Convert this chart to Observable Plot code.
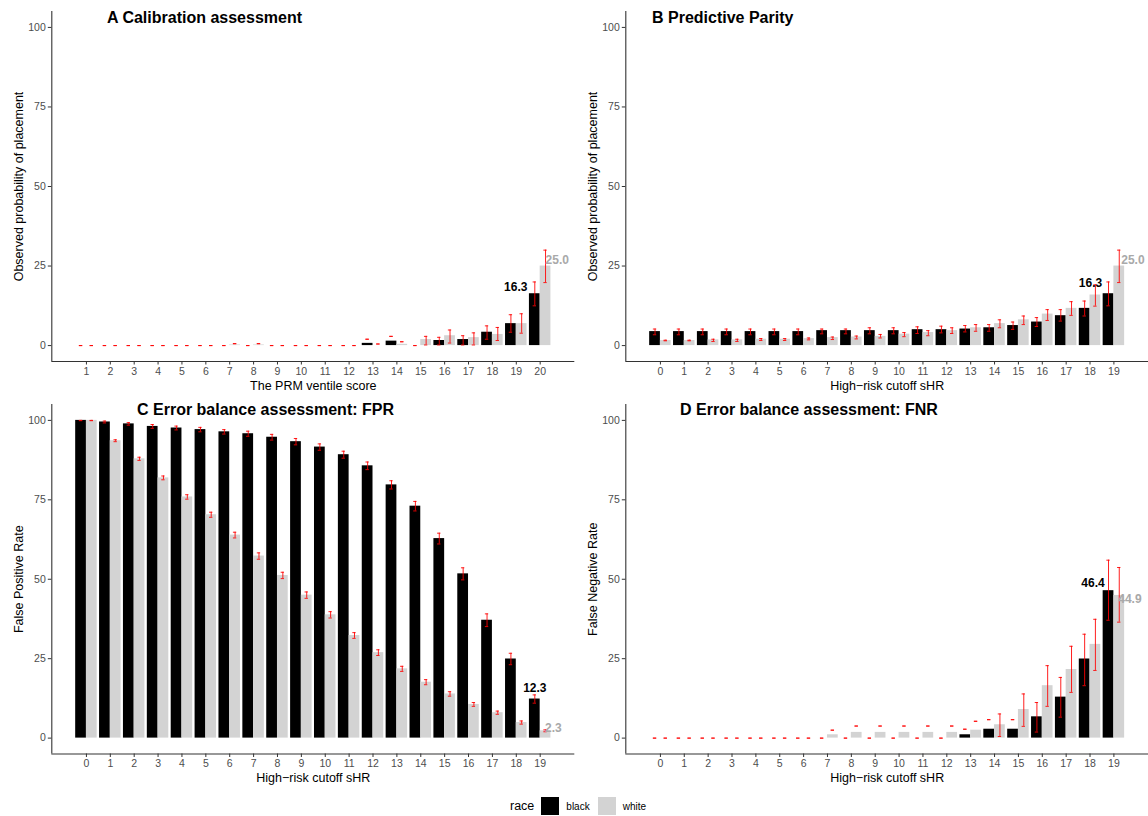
<!DOCTYPE html>
<html>
<head>
<meta charset="utf-8">
<script src="https://cdn.jsdelivr.net/npm/d3@7"></script>
<script src="https://cdn.jsdelivr.net/npm/@observablehq/plot@0.6"></script>
<style>
  body { margin: 0; background: #fff; }
  #chart { position: relative; width: 1148px; height: 816px; overflow: hidden;
           font-family: "Liberation Sans", Arial, sans-serif; background: #fff; }
  #chart svg { position: absolute; background: transparent; max-width: none; overflow: visible; }
  .ptitle { position: absolute; font-weight: bold; font-size: 16px; line-height: 16px; white-space: nowrap; color: #000; }
  .legend { position: absolute; left: 510px; top: 797px; height: 18px; display: flex; align-items: center; white-space: nowrap; }
  .legend .lt { font-size: 12.5px; color: #000; margin-right: 7px; }
  .legend .sw { width: 18px; height: 18px; margin-right: 7px; }
  .legend .ll { font-size: 10px; color: #000; margin-right: 8px; }
</style>
</head>
<body>
<div id="chart"></div>
<script>
// ---- categories & legend ----
const races = ["black", "white"];
const raceColors = ["#000000", "#d3d3d3"];
const ventiles = [1, 2, 3, 4, 5, 6, 7, 8, 9, 10, 11, 12, 13, 14, 15, 16, 17, 18, 19, 20];
const cutoffs = [0, 1, 2, 3, 4, 5, 6, 7, 8, 9, 10, 11, 12, 13, 14, 15, 16, 17, 18, 19];
const yTicks = [0, 25, 50, 75, 100];
const yDomain = [-5, 105];

// ---- A: observed placement rate by PRM ventile ----
const calibBlack   = [0, 0, 0, 0, 0, 0, 0, 0, 0, 0, 0, 0, 0.7, 1.4, 0, 1.6, 1.9, 4.2, 6.9, 16.3];
const calibBlackLo = [0, 0, 0, 0, 0, 0, 0, 0, 0, 0, 0, 0, 2.0, 2.9, 0, 0.2, 0.2, 2.0, 4.2, 12.5];
const calibBlackHi = [0, 0, 0, 0, 0, 0, 0, 0, 0, 0, 0, 0, 2.0, 2.9, 0, 2.6, 3.1, 6.2, 9.7, 20.0];
const calibWhite   = [0, 0, 0, 0, 0, 0, 0.2, 0.2, 0, 0, 0, 0, 0, 0.4, 1.9, 3.1, 2.5, 3.5, 6.9, 25.0];
const calibWhiteLo = [0, 0, 0, 0, 0, 0, 0.6, 0.6, 0, 0, 0, 0, 0.5, 1.2, 0.2, 0.8, 0.2, 1.6, 3.9, 19.8];
const calibWhiteHi = [0, 0, 0, 0, 0, 0, 0.6, 0.6, 0, 0, 0, 0, 0.5, 1.2, 2.9, 4.9, 4.0, 5.7, 10.0, 30.0];

// ---- B: predictive parity (PPV) by high-risk cutoff ----
const ppvBlack   = [4.4, 4.4, 4.4, 4.4, 4.4, 4.4, 4.4, 4.7, 4.7, 4.7, 4.7, 5.0, 5.0, 5.2, 5.6, 6.3, 7.4, 9.4, 11.7, 16.3];
const ppvBlackLo = [3.4, 3.4, 3.4, 3.4, 3.4, 3.4, 3.4, 3.7, 3.7, 3.7, 3.7, 3.8, 4.0, 4.3, 4.5, 5.1, 6.0, 7.7, 9.3, 12.5];
const ppvBlackHi = [5.2, 5.2, 5.2, 5.2, 5.2, 5.2, 5.2, 5.2, 5.2, 5.6, 5.6, 5.9, 6.1, 6.3, 6.6, 7.4, 8.8, 11.3, 14.0, 20.0];
const ppvWhite   = [1.6, 1.6, 1.8, 1.8, 2.0, 2.0, 2.2, 2.5, 2.7, 2.9, 3.6, 4.1, 4.7, 5.6, 6.9, 8.1, 9.9, 11.7, 15.9, 25.0];
const ppvWhiteLo = [1.5, 1.5, 1.3, 1.3, 1.6, 1.6, 1.8, 1.9, 2.1, 2.4, 2.8, 3.1, 3.8, 4.5, 5.6, 6.6, 7.9, 9.5, 12.4, 19.8];
const ppvWhiteHi = [1.7, 1.7, 2.0, 2.0, 2.2, 2.2, 2.4, 2.7, 3.0, 3.5, 4.1, 4.7, 5.6, 6.6, 8.1, 9.3, 11.3, 13.8, 19.1, 30.0];

// ---- C: false positive rate by high-risk cutoff ----
const fprBlack   = [100.0, 99.5, 98.9, 98.1, 97.6, 97.1, 96.4, 95.8, 94.7, 93.3, 91.6, 89.2, 85.7, 79.7, 73.0, 62.8, 51.7, 37.1, 24.9, 12.3];
const fprBlackLo = [99.9, 99.2, 98.5, 97.5, 97.0, 96.4, 95.7, 95.0, 93.8, 92.3, 90.6, 88.1, 84.5, 78.4, 71.5, 61.1, 49.8, 35.1, 23.1, 11.0];
const fprBlackHi = [100.0, 99.8, 99.3, 98.7, 98.2, 97.8, 97.1, 96.6, 95.6, 94.3, 92.6, 90.3, 86.9, 81.0, 74.5, 64.5, 53.6, 39.1, 26.7, 13.6];
const fprWhite   = [100.0, 93.6, 87.9, 81.9, 75.9, 70.3, 63.9, 57.3, 51.2, 45.0, 38.8, 32.3, 26.9, 21.8, 17.6, 13.9, 10.6, 8.0, 4.9, 2.3];
const fprWhiteLo = [99.9, 93.3, 87.4, 81.3, 75.2, 69.5, 63.0, 56.3, 50.2, 44.0, 37.8, 31.4, 26.0, 21.0, 16.8, 13.2, 10.0, 7.5, 4.4, 2.0];
const fprWhiteHi = [100.0, 93.9, 88.4, 82.5, 76.6, 71.1, 64.8, 58.3, 52.2, 46.0, 39.8, 33.2, 27.8, 22.6, 18.4, 14.6, 11.2, 8.5, 5.4, 2.6];

// ---- D: false negative rate by high-risk cutoff ----
const fnrBlack   = [0, 0, 0, 0, 0, 0, 0, 0, 0, 0, 0, 0, 0, 1.05, 2.8, 2.8, 6.7, 12.9, 24.9, 46.4];
const fnrBlackLo = [0, 0, 0, 0, 0, 0, 0, 0, 0, 0, 0, 0, 0, 2.8, 5.8, 5.8, 1.9, 6.6, 16.5, 37.1];
const fnrBlackHi = [0, 0, 0, 0, 0, 0, 0, 0, 0, 0, 0, 0, 0, 2.8, 5.8, 5.8, 11.2, 19.1, 32.7, 56.0];
const fnrWhite   = [0, 0, 0, 0, 0, 0, 0, 1.05, 1.8, 1.8, 1.8, 1.8, 1.8, 2.5, 4.2, 9.0, 16.5, 21.6, 29.5, 44.9];
const fnrWhiteLo = [0, 0, 0, 0, 0, 0, 0, 2.5, 3.8, 3.8, 3.8, 3.8, 3.8, 5.3, 0.5, 3.7, 10.0, 14.4, 21.3, 36.5];
const fnrWhiteHi = [0, 0, 0, 0, 0, 0, 0, 2.5, 3.8, 3.8, 3.8, 3.8, 3.8, 5.3, 7.6, 13.9, 22.8, 28.9, 37.4, 53.7];

// long-format rows: one per category x race
function toRows(cats, bv, blo, bhi, wv, wlo, whi) {
  const out = [];
  cats.forEach((c, i) => {
    out.push({cat: c, race: "black", value: bv[i], lo: blo[i], hi: bhi[i]});
    out.push({cat: c, race: "white", value: wv[i], lo: wlo[i], hi: whi[i]});
  });
  return out;
}

const BAR = 0.45;   // half of the dodge width (each bar is 0.45 wide)
const CAP = 0.07;   // half width of an error-bar cap
const FONT = '"Liberation Sans", Arial, sans-serif';
const raceFill = d => raceColors[races.indexOf(d.race)];

const panels = [
  {
    title: "A Calibration assessment", titleX: 107, titleBase: 23.3,
    left: 0, top: 0, width: 576, height: 395, marginTop: 11, marginBottom: 34, marginLeft: 51.3, marginRight: 1.7,
    cats: ventiles, rows: toRows(ventiles, calibBlack, calibBlackLo, calibBlackHi, calibWhite, calibWhiteLo, calibWhiteHi),
    xTitle: "The PRM ventile score", yTitle: "Observed probability of placement",
    labels: {black: {at: -BAR, anchor: "end", dx: -2, dy: -7}, white: {at: BAR / 2, anchor: "start", dx: 0, dy: -6}}
  },
  {
    title: "B Predictive Parity", titleX: 652, titleBase: 23.3,
    left: 574, top: 0, width: 574, height: 395, marginTop: 11, marginBottom: 34, marginLeft: 51.3, marginRight: 0,
    cats: cutoffs, rows: toRows(cutoffs, ppvBlack, ppvBlackLo, ppvBlackHi, ppvWhite, ppvWhiteLo, ppvWhiteHi),
    xTitle: "High\u2212risk cutoff sHR", yTitle: "Observed probability of placement",
    labels: {black: {at: -BAR, anchor: "end", dx: -1, dy: -11}, white: {at: BAR / 2, anchor: "start", dx: 2, dy: -6}}
  },
  {
    title: "C Error balance assessment: FPR", titleX: 137, titleBase: 415,
    left: 0, top: 395, width: 576, height: 400, marginTop: 9, marginBottom: 41.5, marginLeft: 51.3, marginRight: 1.7,
    cats: cutoffs, rows: toRows(cutoffs, fprBlack, fprBlackLo, fprBlackHi, fprWhite, fprWhiteLo, fprWhiteHi),
    xTitle: "High\u2212risk cutoff sHR", yTitle: "False Positive Rate",
    labels: {black: {at: -BAR / 2, anchor: "middle", dx: 0, dy: -11}, white: {at: BAR / 2, anchor: "start", dx: -0.5, dy: -3}}
  },
  {
    title: "D Error balance assessment: FNR", titleX: 680, titleBase: 415,
    left: 574, top: 395, width: 574, height: 400, marginTop: 9, marginBottom: 41.5, marginLeft: 51.3, marginRight: 0,
    cats: cutoffs, rows: toRows(cutoffs, fnrBlack, fnrBlackLo, fnrBlackHi, fnrWhite, fnrWhiteLo, fnrWhiteHi),
    xTitle: "High\u2212risk cutoff sHR", yTitle: "False Negative Rate",
    labels: {black: {at: -BAR, anchor: "end", dx: 1.5, dy: -8}, white: {at: BAR / 2, anchor: "start", dx: -1, dy: 4}}
  }
];

const labelColors = {black: "#000000", white: "#a9a9a9"};
const chart = document.getElementById("chart");

function drawPanel(p) {
  const n = p.cats.length;
  const xDomain = [p.cats[0] - 1.45, p.cats[n - 1] + 1.45];
  const barX1 = d => d.cat + (d.race === "black" ? -BAR : 0);
  const barX2 = d => d.cat + (d.race === "black" ? 0 : BAR);
  const mid = d => d.cat + (d.race === "black" ? -BAR / 2 : BAR / 2);
  const err = {stroke: "#ff0000", strokeOpacity: 0.88, strokeWidth: 1};
  const lastRows = p.rows.filter(d => d.cat === p.cats[n - 1]);
  const valueLabel = race => {
    const s = p.labels[race];
    return Plot.text(lastRows.filter(d => d.race === race), {
      x: d => d.cat + s.at, y: "value", text: d => d.value.toFixed(1),
      textAnchor: s.anchor, dx: s.dx, dy: s.dy,
      fill: labelColors[race], fontWeight: "bold", fontSize: 12
    });
  };

  const svg = Plot.plot({
    width: p.width, height: p.height,
    marginTop: p.marginTop, marginBottom: p.marginBottom,
    marginLeft: p.marginLeft, marginRight: p.marginRight,
    x: {domain: xDomain},
    y: {domain: yDomain},
    style: {background: "transparent", fontFamily: FONT, overflow: "visible"},
    marks: [
      Plot.rect(p.rows, {x1: barX1, x2: barX2, y1: 0, y2: "value", fill: raceFill}),
      Plot.ruleX(p.rows, {x: mid, y1: "lo", y2: "hi", ...err}),
      Plot.ruleY(p.rows, {y: "lo", x1: d => mid(d) - CAP, x2: d => mid(d) + CAP, ...err}),
      Plot.ruleY(p.rows, {y: "hi", x1: d => mid(d) - CAP, x2: d => mid(d) + CAP, ...err}),
      valueLabel("black"),
      valueLabel("white"),
      Plot.ruleX([xDomain[0]], {stroke: "#333333", strokeWidth: 1.1}),
      Plot.ruleY([yDomain[0]], {stroke: "#333333", strokeWidth: 1.1}),
      Plot.axisX(p.cats, {tickSize: 3.5, tickPadding: 2.5, fontSize: 10.5, fill: "#4d4d4d", stroke: "#333333", label: null}),
      Plot.axisY(yTicks, {tickSize: 3.5, tickPadding: 2.5, fontSize: 10.5, fill: "#4d4d4d", stroke: "#333333", label: null}),
      Plot.text([p.xTitle], {text: d => d, frameAnchor: "bottom", lineAnchor: "middle", textAnchor: "middle",
                             dy: 24, fontSize: 12.5, fill: "#000000"}),
      Plot.text([p.yTitle], {text: d => d, frameAnchor: "left", lineAnchor: "middle", textAnchor: "middle",
                             dx: -33, rotate: -90, fontSize: 12.5, fill: "#000000"})
    ]
  });
  svg.style.left = p.left + "px";
  svg.style.top = p.top + "px";
  chart.appendChild(svg);

  const t = document.createElement("div");
  t.className = "ptitle";
  t.textContent = p.title;
  t.style.left = p.titleX + "px";
  t.style.top = (p.titleBase - 13.5) + "px";
  chart.appendChild(t);
}

panels.forEach(drawPanel);

// legend: title followed by one swatch + label per race
const legend = document.createElement("div");
legend.className = "legend";
const lt = document.createElement("span");
lt.className = "lt";
lt.textContent = "race";
legend.appendChild(lt);
races.forEach((r, i) => {
  const sw = document.createElement("span");
  sw.className = "sw";
  sw.style.background = raceColors[i];
  legend.appendChild(sw);
  const ll = document.createElement("span");
  ll.className = "ll";
  ll.textContent = r;
  legend.appendChild(ll);
});
chart.appendChild(legend);
</script>
</body>
</html>
